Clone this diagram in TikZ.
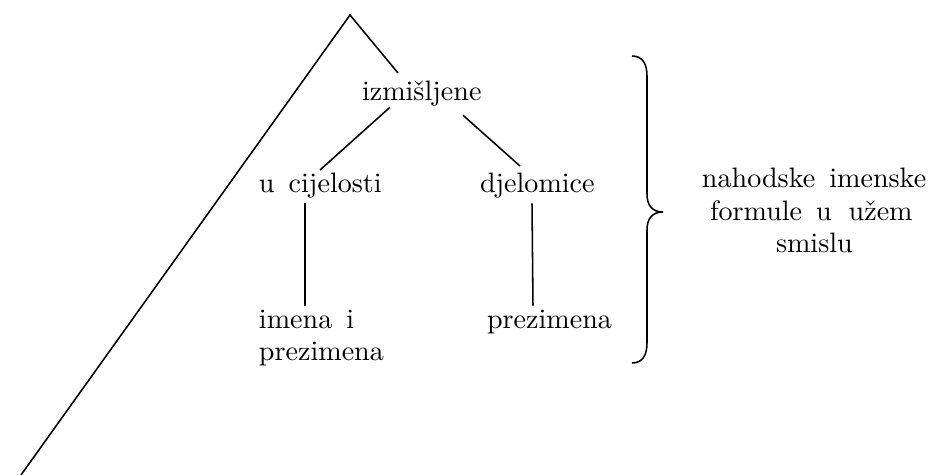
\documentclass[tikz,border=0pt]{standalone}
\usepackage{fontspec}
\usetikzlibrary{calc}
\tikzset{
  px/.style={x=0.356pt,y=-0.356pt},
  lbl/.style={inner sep=0pt,outer sep=0pt,anchor=base west,font=\fontsize{10}{12}\selectfont},
  ln/.style={line width=0.55pt,black},
}
\begin{document}
\begin{tikzpicture}[px]
\useasboundingbox (0,0) rectangle (928,475);
% labels
\node[lbl] (izm)   at (362,100) {izmišljene};
\node[lbl] (ucij)  at (259,192) {u\hspace{5pt}cijelosti};
\node[lbl] (djel)  at (480,192) {djelomice};
\node[lbl] (imena) at (259,328) {imena\hspace{5pt}i};
\node[lbl] (prezA) at (259,360) {prezimena};
\node[lbl] (prezB) at (487,328) {prezimena};
\node[lbl] (nah)   at (702,188) {nahodske\hspace{5pt}imenske};
\node[lbl] (form)  at (710,220) {formule\hspace{5pt}u\hspace{6pt}užem};
\node[lbl] (smis)  at (776,252) {smislu};
% tree
\coordinate (apex) at (350,15);
\coordinate (foot) at (21,475);
\draw[ln] (foot) -- (apex) -- ($(izm.north west)+(36,-7.5)$);
\draw[ln] ($(izm.south west)+(28,1.5)$) -- ($(ucij.north west)+(61,-2.5)$);
\draw[ln] ($(izm.south west)+(101,9.5)$) -- ($(djel.north west)+(40,-6.5)$);
\draw[ln] ($(ucij.south west)+(46,5.5)$) -- ($(imena.north west)+(46,-4)$);
\draw[ln] ($(djel.south west)+(52,5.5)$) -- ($(prezB.north west)+(46,-4)$);
% brace
\draw[ln] (632,56) .. controls (642,56) and (647,63) .. (647,76) -- (647,194)
  .. controls (647,205) and (652,212) .. (663,212)
  .. controls (652,212) and (647,219) .. (647,230) -- (647,343)
  .. controls (647,356) and (642,363) .. (632,363);
\end{tikzpicture}
\end{document}
